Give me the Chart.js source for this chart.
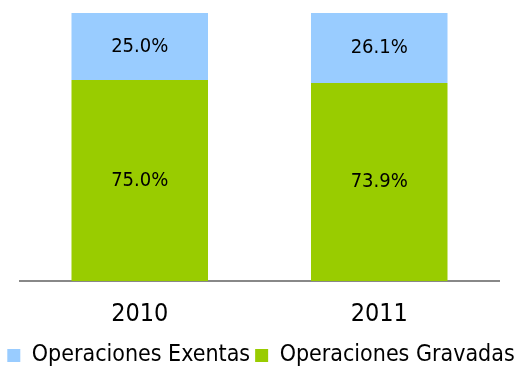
<!DOCTYPE html>
<html>
<head>
<meta charset="utf-8">
<script src="https://cdn.jsdelivr.net/npm/chart.js@4"></script>
<style>
  html, body { margin: 0; padding: 0; background: #fff; }
  #wrap { width: 522px; height: 366px; }
</style>
</head>
<body>
<div id="wrap"><canvas id="ops"></canvas></div>
<script>
const years = ['2010', '2011'];
const gravadas = [75.0, 73.9];
const exentas = [25.0, 26.1];

const FONT = '"DejaVu Sans Condensed", "DejaVu Sans", sans-serif';

// writes the percentage in the middle of each bar segment
const segmentLabels = {
  id: 'segmentLabels',
  afterDatasetsDraw(chart) {
    const ctx = chart.ctx;
    ctx.save();
    ctx.font = '20px ' + FONT;
    ctx.fillStyle = '#000';
    ctx.textAlign = 'center';
    ctx.textBaseline = 'middle';
    chart.data.datasets.forEach((ds, i) => {
      chart.getDatasetMeta(i).data.forEach((bar, j) => {
        const mid = (bar.y + bar.base) / 2;
        ctx.fillText(ds.data[j].toFixed(1) + '%', bar.x, mid);
      });
    });
    ctx.restore();
  }
};

// empty side axes, only used to keep the plot away from the edges
const spacer = (w, pos) => ({
  position: pos,
  display: true,
  min: 0,
  max: 100,
  grid: { display: false },
  border: { display: false },
  ticks: { display: false },
  afterFit(scale) { scale.width = w; }
});

new Chart(document.getElementById('ops'), {
  type: 'bar',
  data: {
    labels: years,
    datasets: [
      {
        label: 'Operaciones Gravadas',
        data: gravadas,
        backgroundColor: '#99cc00',
        barPercentage: 0.57,
        categoryPercentage: 1
      },
      {
        label: 'Operaciones Exentas',
        data: exentas,
        backgroundColor: '#99ccff',
        barPercentage: 0.57,
        categoryPercentage: 1
      }
    ]
  },
  options: {
    responsive: true,
    maintainAspectRatio: false,
    animation: false,
    layout: { padding: { left: 0, right: 0, top: 13, bottom: -11 } },
    plugins: {
      legend: {
        position: 'bottom',
        reverse: true,
        labels: {
          font: { family: FONT, size: 23 },
          color: '#000',
          boxWidth: 13,
          boxHeight: 13,
          padding: 5
        }
      },
      tooltip: { enabled: false }
    },
    scales: {
      x: {
        stacked: true,
        grid: { display: false, drawTicks: false },
        border: { display: true, color: '#888', width: 2 },
        ticks: {
          font: { family: FONT, size: 25 },
          color: '#000',
          padding: 18
        },
        afterFit(scale) { scale.height -= 8; }
      },
      y: Object.assign(spacer(20, 'left'), { stacked: true }),
      y2: spacer(23, 'right')
    }
  },
  plugins: [segmentLabels]
});
</script>
</body>
</html>
